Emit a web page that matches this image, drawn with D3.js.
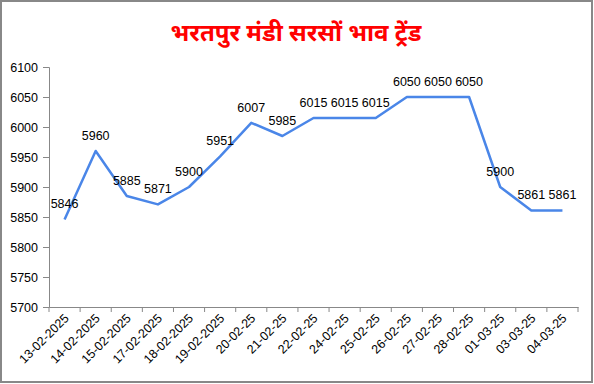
<!DOCTYPE html>
<html><head><meta charset="utf-8">
<script src="https://cdn.jsdelivr.net/npm/d3@7"></script>
<style>body{margin:0;background:#fff}svg{display:block}</style>
</head><body>
<script>
const title = "भरतपुर मंडी सरसों भाव ट्रेंड";
const dates = ["13-02-2025","14-02-2025","15-02-2025","17-02-2025","18-02-2025","19-02-2025","20-02-25","21-02-25","22-02-25","24-02-25","25-02-25","26-02-25","27-02-25","28-02-25","01-03-25","03-03-25","04-03-25"];
const prices = [5846,5960,5885,5871,5900,5951,6007,5985,6015,6015,6015,6050,6050,6050,5900,5861,5861];
const yTicks = [5700,5750,5800,5850,5900,5950,6000,6050,6100];

const W = 594, H = 384;
const m = {left:49, right:578, top:67, bottom:307};
const svg = d3.select("body").append("svg").attr("width",W).attr("height",H);
svg.append("rect").attr("x",1).attr("y",1).attr("width",W-3).attr("height",H-3)
  .attr("fill","#fff").attr("stroke","#888").attr("stroke-width",2);

svg.append("text").attr("x",296).attr("y",41).attr("text-anchor","middle")
  .attr("fill","#ff0000").attr("font-weight","bold").attr("font-size","24px")
  .attr("font-family","'Noto Sans', 'Noto Sans Devanagari', sans-serif").text(title);

const x = d3.scaleBand().domain(dates).range([m.left,m.right]);
const y = d3.scaleLinear().domain([5700,6100]).range([m.bottom,m.top]);
const font = "Arial, 'Liberation Sans', sans-serif";

const ya = svg.append("g").attr("transform",`translate(${m.left},0)`)
  .call(d3.axisLeft(y).tickValues(yTicks).tickSize(6).tickPadding(5).tickFormat(d3.format("d")));
ya.selectAll("path,line").attr("stroke","#888");
ya.selectAll("text").attr("font-size","12.5px").attr("font-family",font).attr("fill","#000");

const xa = svg.append("g").attr("transform",`translate(0,${m.bottom})`)
  .call(d3.axisBottom(x).tickSize(0).tickSizeOuter(0));
xa.select("path").attr("stroke","#888");
xa.selectAll(".tick line").remove();
const bounds = dates.map(d=>x(d)).concat([m.right]);
svg.append("g").selectAll("line").data(bounds).join("line")
  .attr("x1",d=>d).attr("x2",d=>d).attr("y1",m.bottom).attr("y2",m.bottom+5).attr("stroke","#888");
xa.selectAll("text").attr("font-size","12.5px").attr("font-family",font).attr("fill","#000")
  .attr("text-anchor","end").attr("dy",null).attr("y",0)
  .attr("transform",`translate(5,12) rotate(-45)`);

const line = d3.line().x((d,i)=>x(dates[i])+x.bandwidth()/2).y(d=>y(d));
svg.append("path").datum(prices).attr("d",line).attr("fill","none")
  .attr("stroke","#4a86e8").attr("stroke-width",2.5).attr("stroke-linejoin","round");

svg.append("g").selectAll("text").data(prices).join("text")
  .attr("x",(d,i)=>x(dates[i])+x.bandwidth()/2).attr("y",d=>y(d)-11)
  .attr("text-anchor","middle").attr("font-size","12.5px").attr("font-family",font)
  .attr("fill","#000").text(d=>d);
</script>
</body></html>
